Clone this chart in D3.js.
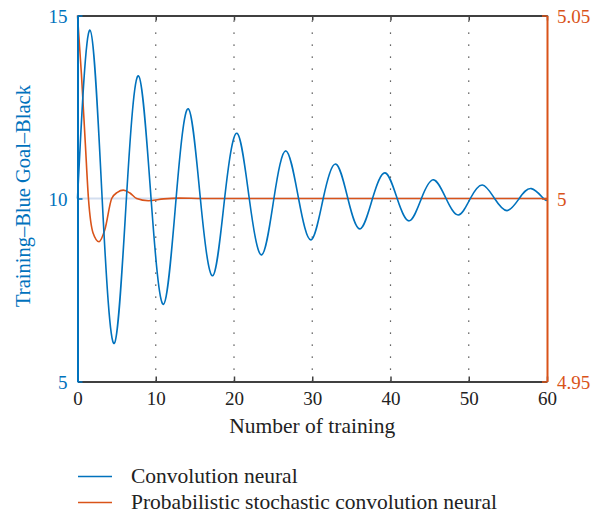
<!DOCTYPE html>
<html>
<head>
<meta charset="utf-8">
<script src="https://cdn.jsdelivr.net/npm/d3@7"></script>
<style>
  body { margin: 0; background: #fff; }
  svg text { font-family: "Liberation Serif", "Times New Roman", serif; }
</style>
</head>
<body>
<script>
// blue series (left axis) read at peaks, troughs and crossings
const blueX = [0, 1.6, 3.15, 4.7, 6.25, 7.8, 9.4, 11.0, 12.6, 14.16, 15.7, 17.28, 18.8, 20.38, 21.95, 23.54, 25.1, 26.65, 28.25, 29.84, 31.4, 33.0, 34.55, 36.1, 37.7, 39.3, 40.85, 42.4, 43.95, 45.5, 47.1, 48.67, 50.2, 51.73, 53.3, 54.9, 56.45, 58.0, 59.55, 60];
const blueY = [10, 14.6, 10, 6.04, 10, 13.35, 10, 7.11, 10, 12.45, 10, 7.89, 10, 11.78, 10, 8.46, 10, 11.3, 10, 8.87, 10, 10.94, 10, 9.17, 10, 10.7, 10, 9.39, 10, 10.51, 10, 9.55, 10, 10.37, 10, 9.67, 10, 10.27, 10, 9.97];

// orange series (right axis)
const orangeX = [0, 0.5, 1.0, 1.4, 2.0, 2.75, 3.5, 4.37, 5.1, 5.86, 6.7, 7.56, 9.05, 11.0, 13.0, 16.0, 60];
const orangeY = [5.05, 5.034, 5.015, 5.0, 4.9905, 4.9882, 4.9915, 5.0, 5.0017, 5.0023, 5.0015, 5.0, 4.9994, 4.9999, 5.0001, 5.0, 5.0];

const xTicks = [0, 10, 20, 30, 40, 50, 60];
const leftTicks = [5, 10, 15];
const rightTicks = [4.95, 5, 5.05];
const seriesNames = ["Convolution neural", "Probabilistic stochastic convolution neural"];

const width = 592;
const height = 517;
const blue = "#0072BD";
const orange = "#D95319";
const dark = "#404040";

const svg = d3.select("body")
              .append("svg")
              .attr("width", width)
              .attr("height", height);

const x = d3.scaleLinear().domain([0, 60]).range([77.5, 547]);
const yL = d3.scaleLinear().domain([5, 15]).range([381.5, 15.5]);
const yR = d3.scaleLinear().domain([4.95, 5.05]).range([381.5, 15.5]);

// dotted grid
svg.append("g")
   .selectAll("line")
   .data(xTicks.slice(1, -1))
   .enter()
   .append("line")
   .attr("x1", d => x(d)).attr("x2", d => x(d))
   .attr("y1", yL(15)).attr("y2", yL(5))
   .attr("stroke", "#333")
   .attr("stroke-width", 1.2)
   .attr("stroke-dasharray", "1.2,10.8")
   .attr("stroke-dashoffset", -5);

// pale line at 10
svg.append("line")
   .attr("x1", x(0)).attr("x2", x(60))
   .attr("y1", yL(10)).attr("y2", yL(10))
   .attr("stroke", "#d3deef")
   .attr("stroke-width", 2);

const blueLine = d3.line()
    .x((d, i) => x(blueX[i]))
    .y(d => yL(d))
    .curve(d3.curveNatural);

const orangeLine = d3.line()
    .x((d, i) => x(orangeX[i]))
    .y(d => yR(d))
    .curve(d3.curveMonotoneX);

svg.append("path")
   .attr("d", orangeLine(orangeY))
   .attr("fill", "none")
   .attr("stroke", orange)
   .attr("stroke-width", 1.6);

svg.append("path")
   .attr("d", blueLine(blueY))
   .attr("fill", "none")
   .attr("stroke", blue)
   .attr("stroke-width", 1.6);

// axes
const xAxis = d3.axisBottom(x).tickValues(xTicks).tickSizeInner(-5).tickSizeOuter(0).tickPadding(10);
const topAxis = d3.axisTop(x).tickValues(xTicks).tickSizeInner(-5).tickSizeOuter(0).tickFormat("");
const leftAxis = d3.axisLeft(yL).tickValues(leftTicks).tickSizeInner(-5).tickSizeOuter(0).tickPadding(10).tickFormat(d3.format("d"));
const rightAxis = d3.axisRight(yR).tickValues(rightTicks).tickSizeInner(-5).tickSizeOuter(0).tickPadding(10).tickFormat(d => d === 5 ? "5" : d3.format(".2f")(d));

function styleAxis(g, color) {
    g.select(".domain").attr("stroke", color).attr("stroke-width", 2);
    g.selectAll(".tick line").attr("stroke", color).attr("stroke-width", 1.5);
    g.selectAll(".tick text").attr("fill", color).style("font-size", "19px");
}

svg.append("g")
   .attr("transform", "translate(0," + yL(15) + ")")
   .call(topAxis)
   .call(g => styleAxis(g, dark));

svg.append("g")
   .attr("transform", "translate(0," + yL(5) + ")")
   .call(xAxis)
   .call(g => styleAxis(g, dark))
   .call(g => g.selectAll(".tick text").attr("fill", "#222"));

svg.append("g")
   .attr("transform", "translate(" + x(0) + ",0)")
   .call(leftAxis)
   .call(g => styleAxis(g, blue))
   .call(g => g.selectAll(".tick text").attr("dy", "0.36em"));

svg.append("g")
   .attr("transform", "translate(" + x(60) + ",0)")
   .call(rightAxis)
   .call(g => styleAxis(g, orange))
   .call(g => g.selectAll(".tick text").attr("dy", "0.36em"));

// axis titles
svg.append("text")
   .attr("x", (x(0) + x(60)) / 2)
   .attr("y", 433)
   .attr("text-anchor", "middle")
   .attr("fill", "#222")
   .style("font-size", "21.5px")
   .text("Number of training");

svg.append("text")
   .attr("transform", "translate(30,196) rotate(-90)")
   .attr("text-anchor", "middle")
   .attr("fill", blue)
   .style("font-size", "20.5px")
   .text("Training\u2013Blue Goal\u2013Black");

// legend
const legend = svg.append("g");
const legendColors = [blue, orange];
const legendY = [476.5, 502.5];
seriesNames.forEach((name, i) => {
    legend.append("line")
          .attr("x1", 78).attr("x2", 112)
          .attr("y1", legendY[i]).attr("y2", legendY[i])
          .attr("stroke", legendColors[i])
          .attr("stroke-width", 1.6);
    legend.append("text")
          .attr("x", 131)
          .attr("y", legendY[i] + 6)
          .attr("fill", "#222")
          .style("font-size", "21.5px")
          .text(name);
});
</script>
</body>
</html>
